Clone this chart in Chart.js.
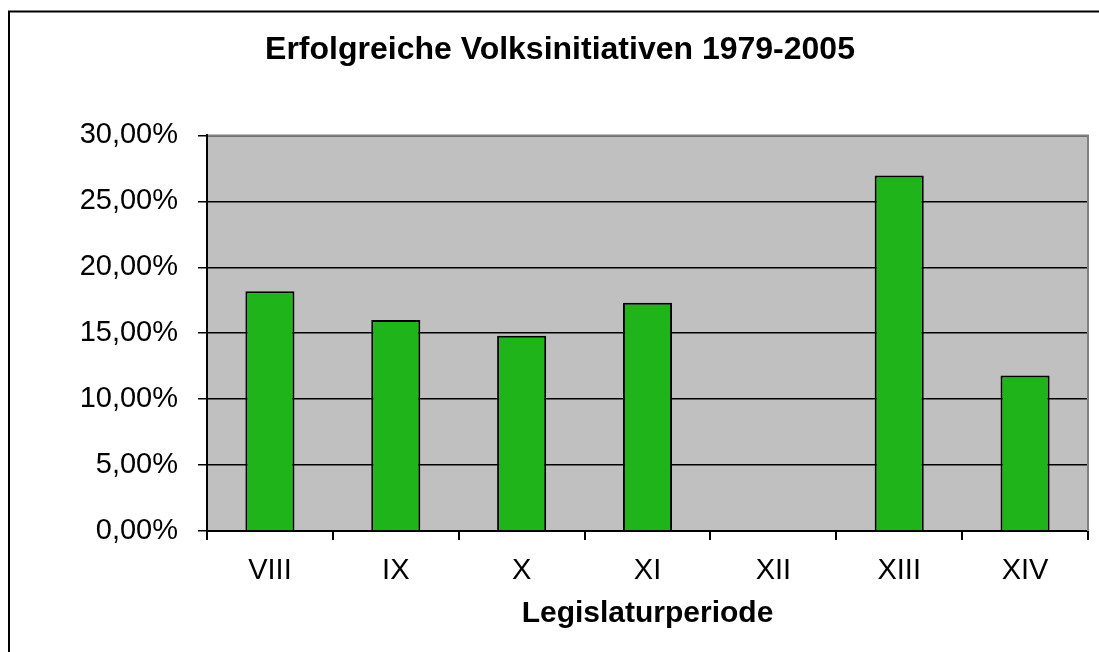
<!DOCTYPE html>
<html>
<head>
<meta charset="utf-8">
<script src="https://cdn.jsdelivr.net/npm/chart.js@4/dist/chart.umd.min.js"></script>
<style>
  html, body { margin: 0; padding: 0; background: #fff; }
  #wrap { width: 1099px; height: 652px; }
</style>
</head>
<body>
<div id="wrap"><canvas id="chart" width="1099" height="652"></canvas></div>
<script>
// Legislaturperioden and share of successful initiatives (percent)
var periods = ['VIII', 'IX', 'X', 'XI', 'XII', 'XIII', 'XIV'];
var successRate = [18.18, 16.0, 14.8, 17.3, 0, 26.95, 11.8];
var yTicks = [0, 5, 10, 15, 20, 25, 30];

var FONT = "'Liberation Sans', Arial, sans-serif";

// gray plot area + frame lines like the old spreadsheet chart
var plotArea = {
    id: 'plotArea',
    beforeDraw: function(chart) {
        var ctx = chart.ctx, a = chart.chartArea;
        ctx.save();
        ctx.fillStyle = '#c0c0c0';
        ctx.fillRect(a.left, a.top, a.right - a.left, a.bottom - a.top);
        ctx.restore();
    },
    afterDraw: function(chart) {
        var ctx = chart.ctx, a = chart.chartArea;
        ctx.save();
        ctx.strokeStyle = '#808080';
        ctx.lineWidth = 2;
        ctx.beginPath();
        ctx.moveTo(a.left + 1, a.top);
        ctx.lineTo(a.right, a.top);
        ctx.lineTo(a.right, a.bottom);
        ctx.stroke();
        // outer chart frame (left + top visible)
        ctx.strokeStyle = '#000';
        ctx.lineWidth = 2;
        ctx.beginPath();
        ctx.moveTo(9, chart.height);
        ctx.lineTo(9, 11.5);
        ctx.lineTo(chart.width, 11.5);
        ctx.stroke();
        ctx.restore();
    }
};

new Chart(document.getElementById('chart').getContext('2d'), {
    type: 'bar',
    data: {
        labels: periods,
        datasets: [{
            data: successRate,
            backgroundColor: '#1fb41a',
            borderColor: '#000',
            borderWidth: 2,
            barPercentage: 0.39,
            categoryPercentage: 1.0
        }]
    },
    options: {
        responsive: false,
        animation: false,
        layout: { padding: { left: 32, right: 11, top: 0, bottom: 0 } },
        plugins: {
            legend: { display: false },
            tooltip: { enabled: false },
            title: {
                display: true,
                text: 'Erfolgreiche Volksinitiativen 1979-2005',
                color: '#000',
                font: { family: FONT, size: 32, weight: 'bold' },
                padding: { top: 31, bottom: 66 }
            }
        },
        scales: {
            x: {
                grid: { drawOnChartArea: false, drawTicks: true, tickLength: 9, color: '#000', lineWidth: 2 },
                border: { color: '#000', width: 2 },
                ticks: { color: '#000', font: { family: FONT, size: 29 }, padding: 14, maxRotation: 0 },
                title: {
                    display: true,
                    text: 'Legislaturperiode',
                    color: '#000',
                    font: { family: FONT, size: 30, weight: 'bold' },
                    padding: { top: 0, bottom: 20 }
                },
                afterFit: function(scale) { scale.height = 121; }
            },
            y: {
                min: 0,
                max: 30,
                afterBuildTicks: function(scale) {
                    scale.ticks = yTicks.map(function(v) { return { value: v }; });
                },
                grid: { color: '#000', lineWidth: 1.5, tickLength: 9 },
                border: { color: '#000', width: 2 },
                ticks: {
                    color: '#000',
                    font: { family: FONT, size: 29 },
                    padding: 20,
                    callback: function(v) { return v.toFixed(2).replace('.', ',') + '%'; }
                },
                afterFit: function(scale) { scale.width = 175; }
            }
        }
    },
    plugins: [plotArea]
});
</script>
</body>
</html>
